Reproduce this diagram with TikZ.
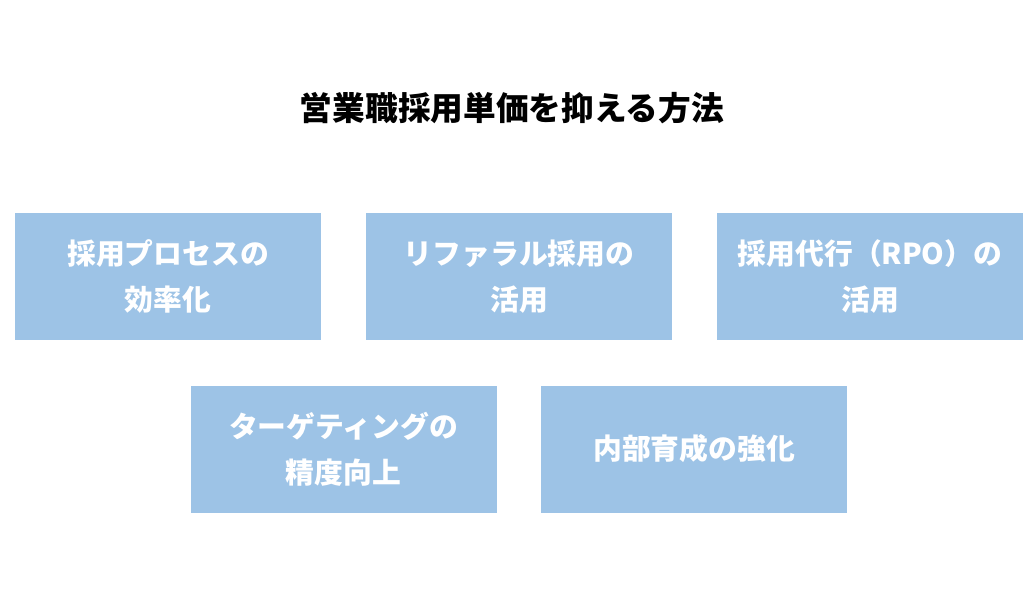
\documentclass[tikz,border=0pt]{standalone}
\usepackage{fontspec}
\setmainfont{Noto Sans CJK JP}
\definecolor{boxBlue}{HTML}{9DC3E6}

\begin{document}
\begin{tikzpicture}
[x=1pt,y=-1pt,%
  titleDecorate/.style={font={\fontsize{32.7}{38}\selectfont\bfseries},text=black},%
  boxDecorate/.style={shape=rectangle,fill=boxBlue,minimum width=306pt,
    minimum height=127pt,inner sep=0pt,align=center,text=white,
    font={\fontsize{28.8}{46}\selectfont\bfseries}}]
\useasboundingbox (0,0) rectangle (1024,611);
%% title
\node (title) at (512,108) [titleDecorate] {営業職採用単価を抑える方法};
%% boxes
\foreach \nodename/\x/\y/\txt in {
  process/168/276.5/{採用プロセスの\\効率化},
  referral/519/276.5/{リファラル採用の\\活用},
  rpo/870/276.5/{採用代行（RPO）の\\活用},
  targeting/343.5/449/{ターゲティングの\\精度向上},
  training/694/449/{内部育成の強化}}
{
  \node (\nodename) at (\x,\y) [boxDecorate] {\txt};
}
\end{tikzpicture}
\end{document}
